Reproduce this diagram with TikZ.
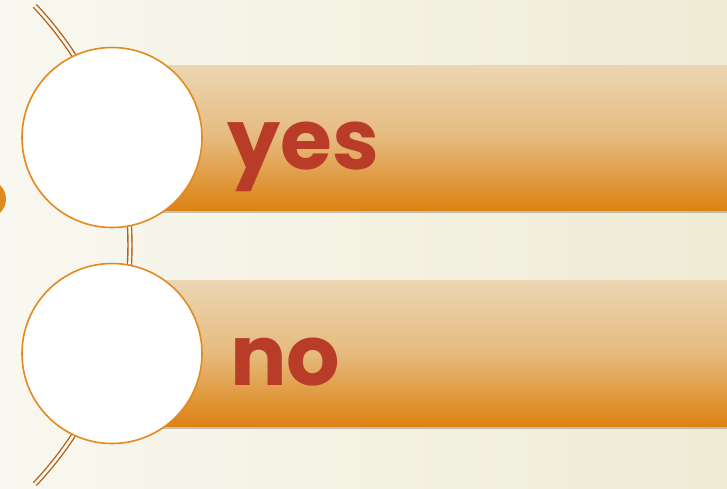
\documentclass[tikz,border=0pt]{standalone}
\usepackage{fontspec}
\newfontfamily\optfont{Poppins}
\usetikzlibrary{calc,shadows}
\definecolor{bgLeft}   {RGB}{249,248,240}
\definecolor{bgRight}  {RGB}{238,235,213}
\definecolor{arcBrown} {RGB}{180,100, 28}
\definecolor{ringOrng} {RGB}{226,138, 32}
\definecolor{barTop}   {RGB}{236,214,178}
\definecolor{barMid}   {RGB}{230,186,126}
\definecolor{barBot}   {RGB}{220,130, 18}
\definecolor{txtRed}   {RGB}{184, 60, 39}

\begin{document}
\begin{tikzpicture}[x=1pt,y=-1pt,
  optbar/.style={rectangle,inner sep=0pt,minimum width=577pt,
                 top color=barTop,bottom color=barBot,middle color=barMid,
                 drop shadow={shadow xshift=0pt,shadow yshift=-3pt,
                              opacity=0.3,fill=black!70}},
  ring/.style={circle,draw=ringOrng,line width=1.6pt,fill=white,
               minimum size=180pt,inner sep=0pt},
  word/.style={font=\optfont\bfseries\fontsize{84}{84}\selectfont,
               text=txtRed,inner sep=0pt,anchor=base west}
]
\useasboundingbox (0,0) rectangle (727,488);
\fill[left color=bgLeft,right color=bgRight] (0,0) rectangle (727,488);

% left arc and dot
\draw[arcBrown,line width=1.4pt,double=bgLeft,double distance=2.6pt]
  ($(-218,245)+(-43.4:348)$) arc[start angle=-43.4,end angle=43.4,radius=348];
\fill[ringOrng] (-13,199) circle[radius=19];

% bars
\node[optbar,minimum height=145pt] (barYes) at (438.5,137.5) {};
\node[optbar,minimum height=146pt] (barNo)  at (438.5,353)   {};

% circles
\node[ring] (ringYes) at (112,137.5) {};
\node[ring] (ringNo)  at (112,353.5) {};

% labels
\node[word] (txtYes) at (227,169) {yes};
\node[word] (txtNo)  at (230,385) {no};
\end{tikzpicture}
\end{document}
